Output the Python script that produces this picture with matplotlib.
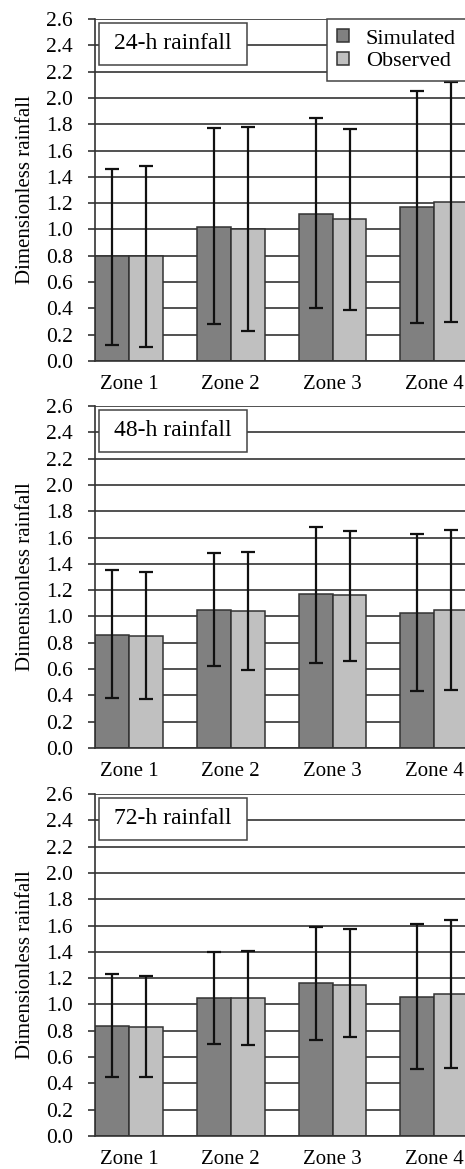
import matplotlib
matplotlib.use("Agg")
import matplotlib.pyplot as plt
from matplotlib.patches import Rectangle
import numpy as np

plt.rcParams['font.family'] = ['Liberation Serif', 'DejaVu Serif']

zones = ["Zone 1", "Zone 2", "Zone 3", "Zone 4"]
titles = ["24-h rainfall", "48-h rainfall", "72-h rainfall"]

# mean dimensionless rainfall per zone
sim_24 = [0.80, 1.02, 1.12, 1.17]
obs_24 = [0.80, 1.00, 1.08, 1.21]
sim_48 = [0.86, 1.05, 1.17, 1.03]
obs_48 = [0.85, 1.04, 1.16, 1.05]
sim_72 = [0.84, 1.05, 1.16, 1.06]
obs_72 = [0.83, 1.05, 1.15, 1.08]

# error bar ends (low / high)
sim_24_lo = [0.12, 0.28, 0.40, 0.29]
sim_24_hi = [1.46, 1.77, 1.85, 2.05]
obs_24_lo = [0.11, 0.23, 0.39, 0.30]
obs_24_hi = [1.48, 1.78, 1.76, 2.12]
sim_48_lo = [0.38, 0.62, 0.65, 0.43]
sim_48_hi = [1.35, 1.48, 1.68, 1.63]
obs_48_lo = [0.37, 0.59, 0.66, 0.44]
obs_48_hi = [1.34, 1.49, 1.65, 1.66]
sim_72_lo = [0.45, 0.70, 0.73, 0.51]
sim_72_hi = [1.23, 1.40, 1.59, 1.61]
obs_72_lo = [0.45, 0.69, 0.75, 0.52]
obs_72_hi = [1.22, 1.41, 1.57, 1.64]

panels = [
    (sim_24, obs_24, sim_24_lo, sim_24_hi, obs_24_lo, obs_24_hi),
    (sim_48, obs_48, sim_48_lo, sim_48_hi, obs_48_lo, obs_48_hi),
    (sim_72, obs_72, sim_72_lo, sim_72_hi, obs_72_lo, obs_72_hi),
]

W, H = 465, 1169
fig = plt.figure(figsize=(W / 100, H / 100), dpi=100)

# panel top/bottom in pixels
panel_px = [(19, 361), (406, 748), (794, 1136)]
left_px = 95
bw = 1 / 3
x = np.arange(len(zones))

for k, ((sim, obs, slo, shi, olo, ohi), (top, bot)) in enumerate(zip(panels, panel_px)):
    ax = fig.add_axes([left_px / W, 1 - bot / H, (W - left_px) / W, (bot - top) / H])
    sim = np.array(sim); obs = np.array(obs)
    ax.bar(x - bw / 2, sim, bw, color="#808080", edgecolor="#333333",
           linewidth=1.1, zorder=2, label="Simulated")
    ax.bar(x + bw / 2, obs, bw, color="#c0c0c0", edgecolor="#333333",
           linewidth=1.1, zorder=2, label="Observed")
    ax.errorbar(x - bw / 2, sim, yerr=[sim - np.array(slo), np.array(shi) - sim],
                fmt="none", ecolor="#111111", elinewidth=1.6, capsize=5, capthick=1.6, zorder=3)
    ax.errorbar(x + bw / 2, obs, yerr=[obs - np.array(olo), np.array(ohi) - obs],
                fmt="none", ecolor="#111111", elinewidth=1.6, capsize=5, capthick=1.6, zorder=3)

    ax.set_xlim(-1 / 3, -1 / 3 + (W - left_px) / 101.8)
    ax.set_ylim(0, 2.6)
    ax.set_yticks(np.arange(0, 2.61, 0.2))
    ax.set_yticklabels([f"{v:.1f}" for v in np.arange(0, 2.61, 0.2)])
    ax.set_xticks(x)
    ax.set_xticklabels(zones)
    ax.yaxis.grid(True, color="#333333", linewidth=1.2, zorder=0)
    ax.set_axisbelow(True)
    for s in ["top", "right"]:
        ax.spines[s].set_visible(False)
    ax.spines["left"].set_color("#333333")
    ax.spines["bottom"].set_color("#333333")
    ax.spines["left"].set_linewidth(1.2)
    ax.spines["bottom"].set_linewidth(1.2)
    ax.tick_params(axis="y", length=5, width=1.2, color="#333333", pad=11, labelsize=15.5)
    ax.tick_params(axis="x", length=0, pad=10, labelsize=15)

    fig.text(25 / W, 1 - (top + bot) / 2 / H, "Dimensionless rainfall",
             rotation=90, ha="center", va="center", fontsize=15)

    # title box
    ax.add_patch(Rectangle((0.011, 0.866), 0.40, 0.122, transform=ax.transAxes,
                           facecolor="white", edgecolor="#444444", linewidth=1.1, zorder=4))
    ax.text(0.211, 0.927, titles[k], transform=ax.transAxes, ha="center", va="center",
            fontsize=17, zorder=5)

    if k == 0:
        leg = ax.legend(loc="upper left", bbox_to_anchor=(0.627, 1.0), borderaxespad=0,
                        fontsize=16, handlelength=0.55, handleheight=0.55, handletextpad=0.75,
                        labelspacing=0.15, borderpad=0.45, fancybox=False, framealpha=1,
                        edgecolor="#444444")
        leg.get_frame().set_linewidth(1.1)
        leg.set_zorder(6)

fig.savefig("out.png", dpi=100)
